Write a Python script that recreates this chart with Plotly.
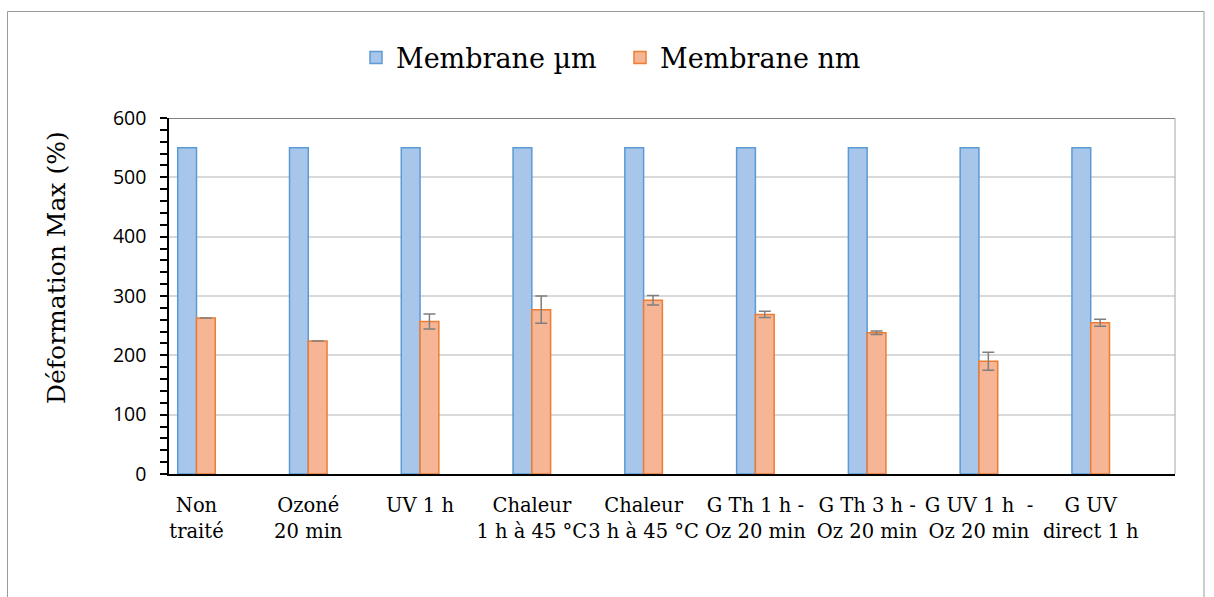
import plotly.graph_objects as go

categories = ["Non<br>traité", "Ozoné<br>20 min", "UV 1 h", "Chaleur<br>1 h à 45 °C",
              "Chaleur<br>3 h à 45 °C", "G Th 1 h -<br>Oz 20 min", "G Th 3 h -<br>Oz 20 min",
              "G UV 1 h  -<br>Oz 20 min", "G UV<br>direct 1 h"]
membrane_um = [550, 550, 550, 550, 550, 550, 550, 550, 550]
membrane_nm = [263, 224, 257, 277, 293, 269, 238, 190, 255]
membrane_nm_err = [0, 0, 12.5, 23, 8, 5.4, 3, 15, 6]
y_ticks = [0, 100, 200, 300, 400, 500, 600]

W, H = 1214, 597
L, R, T, B = 169, 1175, 118, 474

def px_x(p):
    return (p - L) / (R - L)

def px_y(p):
    return (B - p) / (B - T)

fig = go.Figure()
fig.add_trace(go.Bar(
    name="Membrane µm", x=categories, y=membrane_um,
    marker=dict(color="#a8c6ea", line=dict(color="#5b9bd5", width=1.5)),
))
fig.add_trace(go.Bar(
    name="Membrane nm", x=categories, y=membrane_nm,
    marker=dict(color="#f6b595", line=dict(color="#ed7d31", width=1.5)),
    error_y=dict(type="data", array=membrane_nm_err, visible=True,
                 color="#7f7f7f", thickness=1.5, width=6),
))

fig.update_layout(
    width=W, height=H,
    margin=dict(l=L, r=W - R, t=T, b=H - B, pad=0),
    paper_bgcolor="white", plot_bgcolor="white",
    barmode="group", bargap=0.664, bargroupgap=0,
    showlegend=True,
    legend=dict(orientation="h", x=px_x(356), xanchor="left", y=px_y(58), yanchor="middle",
                font=dict(family="DejaVu Serif", size=27, color="#000000"),
                entrywidth=219, entrywidthmode="pixels",
                bgcolor="rgba(0,0,0,0)"),
    font=dict(family="DejaVu Serif", color="#000000"),
)

fig.update_xaxes(
    type="category", range=[-0.246, 8.754],
    showline=True, linecolor="#000000", linewidth=1.5,
    ticks="", showgrid=False, tickangle=0,
    tickfont=dict(family="DejaVu Serif", size=19.5, color="#000000"),
    ticklabelstandoff=13,
)
fig.update_yaxes(
    range=[0, 600], tickvals=y_ticks,
    showline=True, linecolor="#000000", linewidth=1.5,
    ticks="outside", ticklen=7, tickwidth=1.5, tickcolor="#000000",
    minor=dict(dtick=20, ticks="outside", ticklen=7, tickwidth=1.5, tickcolor="#000000", showgrid=False),
    showgrid=True, gridcolor="#d9d9d9", gridwidth=1.5,
    tickfont=dict(family="Open Sans", size=19.5, color="#000000"),
    ticklabelstandoff=10,
    zeroline=False,
)

fig.add_annotation(
    text="Déformation Max (%)", textangle=-90,
    xref="paper", yref="paper", x=px_x(56), y=px_y(268),
    xanchor="center", yanchor="middle", showarrow=False,
    font=dict(family="DejaVu Serif", size=25, color="#000000"),
)

# plot-area border (top and right) and outer chart border
fig.add_shape(type="line", xref="paper", yref="y", x0=0, x1=1, y0=600, y1=600,
              line=dict(color="#595959", width=1.5))
fig.add_shape(type="line", xref="paper", yref="paper", x0=1, x1=1, y0=0, y1=1,
              line=dict(color="#a6a6a6", width=1))
fig.add_shape(type="rect", xref="paper", yref="paper",
              x0=px_x(7.5), x1=px_x(1204), y0=px_y(11.5), y1=px_y(640),
              line=dict(color="#9a9a9a", width=1), fillcolor="rgba(0,0,0,0)", layer="below")

fig.write_html("out.html", config={"displayModeBar": False},
               post_script="document.body.style.margin='0px';")
